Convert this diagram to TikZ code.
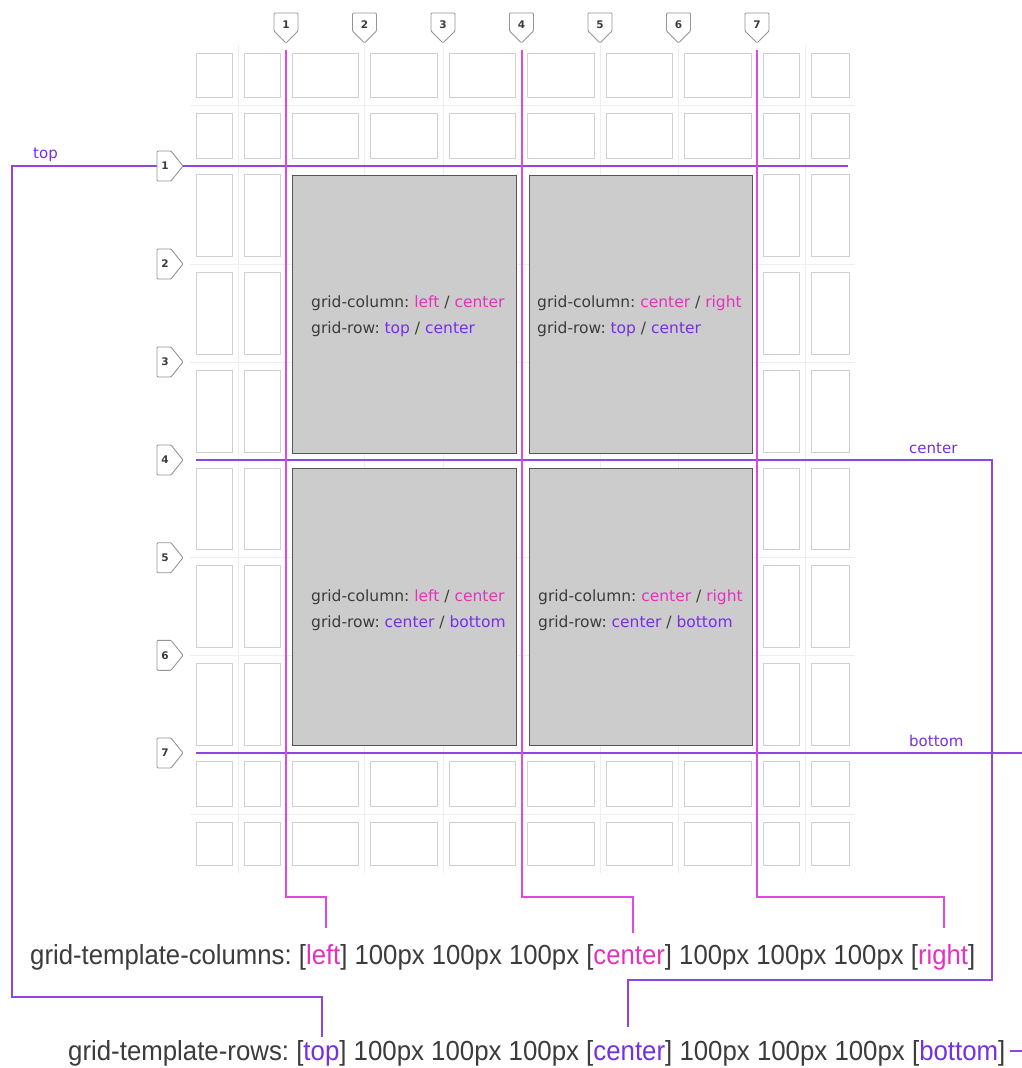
\documentclass[tikz,border=0pt]{standalone}
\usepackage{graphicx}
\usepackage{fontspec}
\setmainfont{DejaVu Sans}
\newfontfamily\codefont{Liberation Sans}
\frenchspacing
\definecolor{magline}{RGB}{226,72,222}
\definecolor{purline}{RGB}{140,70,228}
\definecolor{magtext}{RGB}{228,50,190}
\definecolor{purtext}{RGB}{118,48,226}
\definecolor{txt}{RGB}{60,60,60}
\definecolor{cellc}{RGB}{208,208,208}
\definecolor{faint}{RGB}{238,238,238}
\definecolor{boxfill}{RGB}{204,204,204}
\definecolor{boxline}{RGB}{85,85,85}
\definecolor{markc}{RGB}{150,150,150}
\newcommand{\mg}[1]{\textcolor{magtext}{#1}}
\newcommand{\pu}[1]{\textcolor{purtext}{#1}}
\begin{document}
\begin{tikzpicture}[x=1pt,y=-1pt,
  cellbox/.style={draw=cellc, line width=1pt},
  faintline/.style={draw=faint, line width=1pt},
  magconn/.style={draw=magline, line width=2pt},
  purconn/.style={draw=purline, line width=2pt},
  areabox/.style={draw=boxline, fill=boxfill, line width=1.3pt, inner sep=0pt, anchor=north west},
  marknum/.style={font=\fontsize{10.5}{10.5}\selectfont\bfseries, text=txt, inner sep=0pt},
  markshape/.style={draw=markc, fill=white, line width=0.9pt, rounded corners=1pt},
  boxtext/.style={font=\fontsize{15.5}{18}\selectfont, text=txt, anchor=base west, inner sep=0pt},
  lbl/.style={font=\fontsize{15}{18}\selectfont, text=purtext, anchor=base west, inner sep=0pt},
  codetext/.style={text=txt, anchor=base west, inner sep=0pt}
]
\useasboundingbox (0,0) rectangle (1022,1068);
\fill[white] (0,0) rectangle (1022,1068);
\def\xs{{190,238,286,364.5,443,521.5,600,678.5,757,805,855}}
\def\ys{{45,105,166,264,362,460,557.7,655.3,753,814,873}}
% faint grid lines
\foreach \x in {238,364.5,443,600,678.5,805}
  \draw[faintline] (\x,45) -- (\x,873);
\foreach \y in {105,264,362,557.7,655.3,814}
  \draw[faintline] (190,\y) -- (855,\y);
% cells
\foreach \i in {0,...,9}{
  \foreach \j in {0,...,9}{
    \pgfmathtruncatemacro\inner{(\i>1)&&(\i<8)&&(\j>1)&&(\j<8)}
    \ifnum\inner=0
      \pgfmathsetmacro\xa{\xs[\i]+6}
      \pgfmathsetmacro\xb{\xs[\i+1]-6}
      \pgfmathsetmacro\ya{\ys[\j]+8}
      \pgfmathsetmacro\yb{\ys[\j+1]-8}
      \draw[cellbox] (\xa,\ya) rectangle (\xb,\yb);
    \fi
  }
}
% grid areas
\node[areabox, minimum width=224pt, minimum height=278pt] (boxTL) at (292,175) {};
\node[areabox, minimum width=223pt, minimum height=278pt] (boxTR) at (529,175) {};
\node[areabox, minimum width=224pt, minimum height=277pt] (boxBL) at (292,468) {};
\node[areabox, minimum width=223pt, minimum height=277pt] (boxBR) at (529,468) {};
\node[boxtext] (tTL1) at (311,307) {grid-column: \mg{left} / \mg{center}};
\node[boxtext] (tTL2) at (311,333) {grid-row: \pu{top} / \pu{center}};
\node[boxtext] (tTR1) at (537,307) {grid-column: \mg{center} / \mg{right}};
\node[boxtext] (tTR2) at (537,333) {grid-row: \pu{top} / \pu{center}};
\node[boxtext] (tBL1) at (311,601) {grid-column: \mg{left} / \mg{center}};
\node[boxtext] (tBL2) at (311,627) {grid-row: \pu{center} / \pu{bottom}};
\node[boxtext] (tBR1) at (538,601) {grid-column: \mg{center} / \mg{right}};
\node[boxtext] (tBR2) at (538,627) {grid-row: \pu{center} / \pu{bottom}};
% connector end points
\coordinate (c1T) at (286,50);
\coordinate (c4T) at (521.5,50);
\coordinate (c7T) at (757,50);
\coordinate (leftTail) at (326,928);
\coordinate (centerColTail) at (633,933);
\coordinate (rightTail) at (944,928);
\coordinate (r1R) at (848,166);
\coordinate (r1L) at (12,166);
\coordinate (topTail) at (322,1037);
\coordinate (r4L) at (196,460);
\coordinate (centerRowTail) at (628,1027);
\coordinate (r7L) at (196,753);
\coordinate (r7R) at (1022,753);
\coordinate (rowsEndA) at (1010,1051);
\coordinate (rowsEndB) at (1022,1051);
% row line connectors
\draw[purconn] (r1R) -- (r1L) -- ++(0,831) -| (topTail);
\draw[purconn] (r4L) -- ++(796,0) -- ++(0,520) -| (centerRowTail);
\draw[purconn] (r7L) -- (r7R);
\draw[purconn] (rowsEndA) -- (rowsEndB);
% column line connectors
\draw[magconn] (c1T) -- ++(0,847) -| (leftTail);
\draw[magconn] (c4T) -- ++(0,847) -| (centerColTail);
\draw[magconn] (c7T) -- ++(0,847) -| (rightTail);
% column markers
\foreach \k in {1,...,7}{
  \pgfmathsetmacro\cx{286+(\k-1)*78.5}
  \draw[markshape] (\cx-12,13) -- (\cx+12,13) -- (\cx+12,31) -- (\cx,43) -- (\cx-12,31) -- cycle;
  \node[marknum] (cm\k) at (\cx,25) {\k};
}
% row markers
\foreach \k/\cy in {1/166,2/264,3/362,4/460,5/557.7,6/655.3,7/753}{
  \draw[markshape] (157,\cy-15) -- (171,\cy-15) -- (183,\cy) -- (171,\cy+15) -- (157,\cy+15) -- cycle;
  \node[marknum] (rm\k) at (165,\cy) {\k};
}
% labels
\node[lbl] (topLbl) at (33,158) {top};
\node[lbl] (centerLbl) at (909,453) {center};
\node[lbl] (bottomLbl) at (909,746) {bottom};
% code lines
\node[codetext] (colsText) at (30,964) {\resizebox{945pt}{20pt}{\codefont grid-template-columns: [\mg{left}] 100px 100px 100px [\mg{center}] 100px 100px 100px [\mg{right}]}};
\node[codetext] (rowsText) at (68,1060) {\resizebox{937pt}{20pt}{\codefont grid-template-rows: [\pu{top}] 100px 100px 100px [\pu{center}] 100px 100px 100px [\pu{bottom}]}};
\end{tikzpicture}
\end{document}
